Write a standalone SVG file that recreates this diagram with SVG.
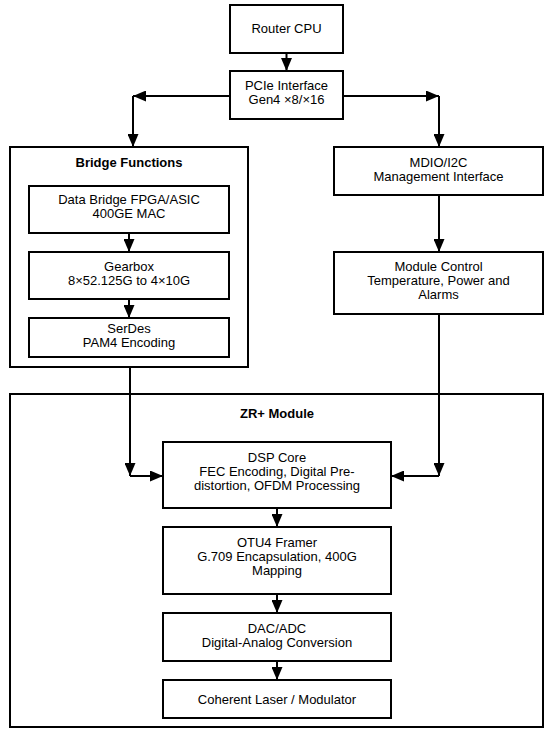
<svg xmlns="http://www.w3.org/2000/svg" width="550" height="738" viewBox="0 0 550 738">
<defs>
<style>
.box{fill:#fff;stroke:#000;stroke-width:2}
.t{font-family:"Liberation Sans",Arial,sans-serif;font-size:13px;fill:#000;text-anchor:middle}
.b{font-weight:bold}
.c{fill:none;stroke:#000;stroke-width:2}
</style>
<marker id="ah" markerUnits="userSpaceOnUse" markerWidth="13" markerHeight="11" refX="13" refY="5.5" orient="auto">
<path d="M0,0 L13,5.5 L0,11 z" fill="#000"/>
</marker>
</defs>
<rect width="550" height="738" fill="#fff"/>
<g id="bridge-functions">
<rect class="box" x="10" y="147" width="238" height="220"/>
<text class="t b" x="129" y="167">Bridge Functions</text>
</g>
<g id="zr-module">
<rect class="box" x="10" y="394" width="533" height="333"/>
<text class="t b" x="277" y="418">ZR+ Module</text>
</g>
<g id="router-cpu">
<rect class="box" x="230" y="5" width="113" height="48"/>
<text class="t" x="286.5" y="33">Router CPU</text>
</g>
<g id="pcie">
<rect class="box" x="230" y="71" width="113" height="48"/>
<text class="t" x="286.5" y="90">PCIe Interface</text>
<text class="t" x="286.5" y="104">Gen4 ×8/×16</text>
</g>
<g id="data-bridge">
<rect class="box" x="29" y="186" width="200" height="47"/>
<text class="t" x="129" y="204">Data Bridge FPGA/ASIC</text>
<text class="t" x="129" y="218">400GE MAC</text>
</g>
<g id="gearbox">
<rect class="box" x="29" y="252" width="200" height="47"/>
<text class="t" x="129" y="271">Gearbox</text>
<text class="t" x="129" y="285">8×52.125G to 4×10G</text>
</g>
<g id="serdes">
<rect class="box" x="29" y="318" width="200" height="39"/>
<text class="t" x="129" y="333">SerDes</text>
<text class="t" x="129" y="347">PAM4 Encoding</text>
</g>
<g id="mdio">
<rect class="box" x="334" y="147" width="209" height="48"/>
<text class="t" x="438.5" y="167">MDIO/I2C</text>
<text class="t" x="438.5" y="181">Management Interface</text>
</g>
<g id="module-control">
<rect class="box" x="334" y="252" width="209" height="62"/>
<text class="t" x="438.5" y="271">Module Control</text>
<text class="t" x="438.5" y="285">Temperature, Power and</text>
<text class="t" x="438.5" y="299">Alarms</text>
</g>
<g id="dsp-core">
<rect class="box" x="163" y="442" width="228" height="66"/>
<text class="t" x="277" y="462">DSP Core</text>
<text class="t" x="277" y="476">FEC Encoding, Digital Pre-</text>
<text class="t" x="277" y="490">distortion, OFDM Processing</text>
</g>
<g id="otu4">
<rect class="box" x="163" y="527" width="228" height="67"/>
<text class="t" x="277" y="547">OTU4 Framer</text>
<text class="t" x="277" y="561">G.709 Encapsulation, 400G</text>
<text class="t" x="277" y="575">Mapping</text>
</g>
<g id="dac-adc">
<rect class="box" x="163" y="613" width="228" height="48"/>
<text class="t" x="277" y="633">DAC/ADC</text>
<text class="t" x="277" y="647">Digital-Analog Conversion</text>
</g>
<g id="laser">
<rect class="box" x="163" y="680" width="228" height="38"/>
<text class="t" x="277" y="704">Coherent Laser / Modulator</text>
</g>
<g id="connectors">
<line class="c" x1="286.5" y1="53" x2="286.5" y2="71" marker-end="url(#ah)"/>
<line class="c" x1="230" y1="96" x2="133" y2="96" marker-end="url(#ah)"/>
<line class="c" x1="133" y1="96" x2="133" y2="147" marker-end="url(#ah)"/>
<line class="c" x1="343" y1="96" x2="439" y2="96" marker-end="url(#ah)"/>
<line class="c" x1="439" y1="96" x2="439" y2="147" marker-end="url(#ah)"/>
<line class="c" x1="129" y1="233" x2="129" y2="252" marker-end="url(#ah)"/>
<line class="c" x1="129" y1="299" x2="129" y2="318" marker-end="url(#ah)"/>
<line class="c" x1="439" y1="195" x2="439" y2="252" marker-end="url(#ah)"/>
<line class="c" x1="130" y1="367" x2="130" y2="476" marker-end="url(#ah)"/>
<line class="c" x1="130" y1="476" x2="163" y2="476" marker-end="url(#ah)"/>
<line class="c" x1="439" y1="314" x2="439" y2="476" marker-end="url(#ah)"/>
<line class="c" x1="439" y1="476" x2="391" y2="476" marker-end="url(#ah)"/>
<line class="c" x1="277" y1="508" x2="277" y2="527" marker-end="url(#ah)"/>
<line class="c" x1="277" y1="594" x2="277" y2="613" marker-end="url(#ah)"/>
<line class="c" x1="277" y1="661" x2="277" y2="680" marker-end="url(#ah)"/>
</g>
</svg>
